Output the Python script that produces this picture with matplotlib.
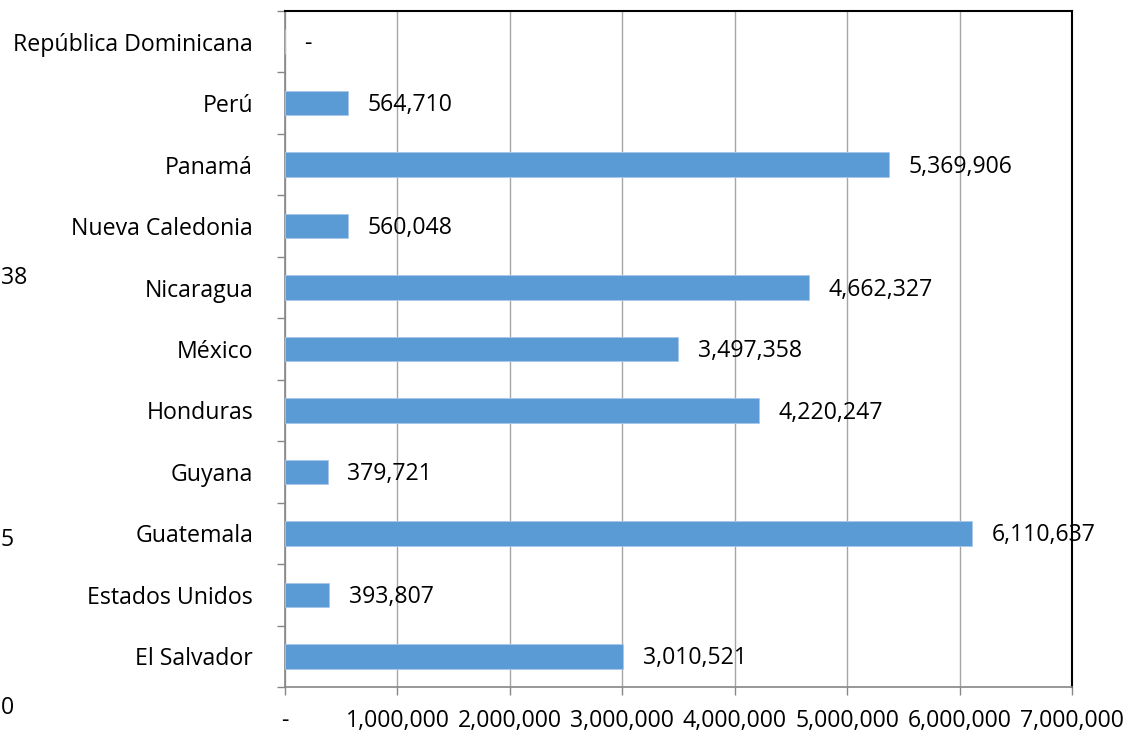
import matplotlib
matplotlib.use("Agg")
import matplotlib.pyplot as plt
from matplotlib.ticker import FuncFormatter, MultipleLocator
import numpy as np

plt.rcParams['font.family'] = ['Open Sans', 'DejaVu Sans']

countries = ["El Salvador", "Estados Unidos", "Guatemala", "Guyana", "Honduras",
             "México", "Nicaragua", "Nueva Caledonia", "Panamá", "Perú",
             "República Dominicana"]
values = [3010521, 393807, 6110637, 379721, 4220247, 3497358, 4662327,
          560048, 5369906, 564710, 0]
x_max = 7000000
x_step = 1000000

FS = 16.7
W, H = 1129, 735
fig = plt.figure(figsize=(W / 100, H / 100), dpi=100)
ax = fig.add_axes([285 / W, 1 - 687 / H, (1072 - 285) / W, (687 - 11) / H])

y = np.arange(len(countries))
ax.barh(y, values, height=0.4, color="#5B9BD5", edgecolor="#A9C8EA",
        linewidth=0.6, zorder=3)

def fmt(v, pos=None):
    return "-" if v == 0 else f"{v:,.0f}"

for yi, v in zip(y, values):
    ax.annotate(fmt(v), xy=(v, yi), xytext=(14, -1.5), textcoords="offset points",
                ha="left", va="center", fontsize=FS, color="black", zorder=4)

ax.set_xlim(0, x_max)
ax.set_ylim(-0.5, len(countries) - 0.5)
ax.xaxis.set_major_locator(MultipleLocator(x_step))
ax.xaxis.set_major_formatter(FuncFormatter(fmt))
ax.set_yticks(y)
ax.set_yticklabels(countries)
ax.set_yticks(np.arange(-0.5, len(countries), 1), minor=True)

ax.grid(axis="x", color="#A6A6A6", linewidth=1.0, zorder=0)
ax.set_axisbelow(True)

for s in ["top", "right"]:
    ax.spines[s].set_color("black")
    ax.spines[s].set_linewidth(1.5)
for s in ["left", "bottom"]:
    ax.spines[s].set_color("#868686")
    ax.spines[s].set_linewidth(1.2)

ax.tick_params(axis="y", which="major", length=0, pad=23, labelsize=FS)
ax.tick_params(axis="y", which="minor", length=6, color="#868686", width=1)
ax.tick_params(axis="x", which="major", length=6, color="#868686", width=1,
               pad=10, labelsize=FS)

# partially visible labels at the left edge of the original picture
fig.text(1 / W, 1 - 278 / H, "38", ha="left", va="center", fontsize=FS)
fig.text(1 / W, 1 - 540 / H, "5", ha="left", va="center", fontsize=FS)
fig.text(1 / W, 1 - 708 / H, "0", ha="left", va="center", fontsize=FS)

fig.savefig("out.png", dpi=100, facecolor="white")
